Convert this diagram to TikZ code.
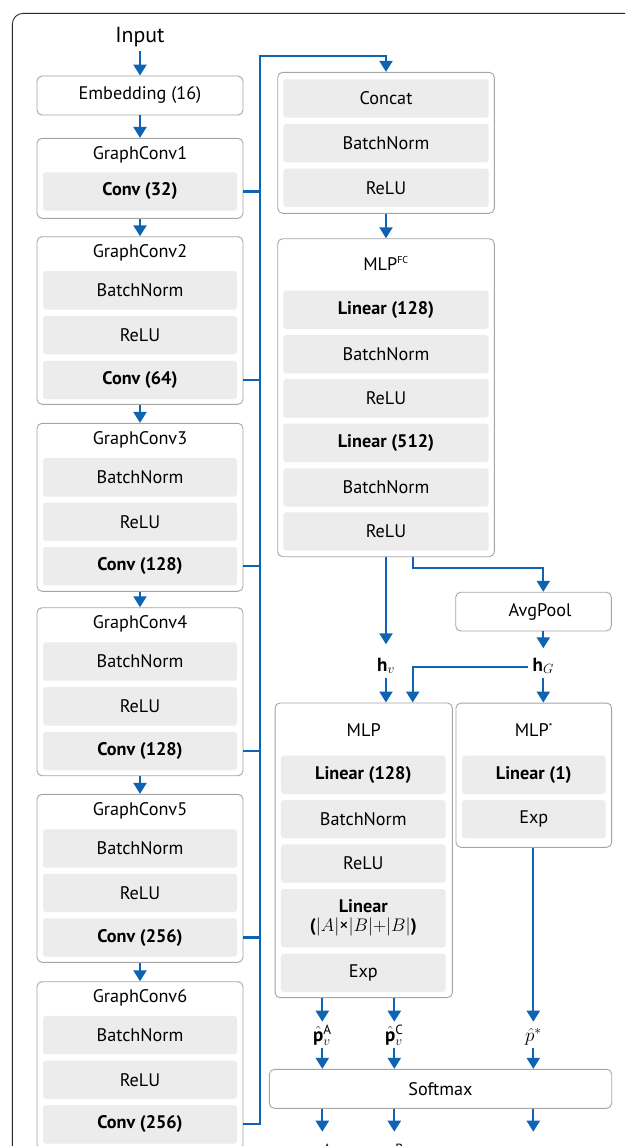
\documentclass[tikz,border=0pt]{standalone}
\usepackage{fix-cm}
\usepackage{amsmath}
\usepackage{fontspec}
\setmainfont{PT Sans}
\usetikzlibrary{arrows.meta,calc}
\definecolor{arrowblue}{RGB}{14,100,178}
\definecolor{cellgray}{RGB}{236,236,236}
\definecolor{boxgray}{RGB}{165,165,165}
\definecolor{framecol}{RGB}{40,40,40}
\tikzset{
  frame/.style={draw=framecol, line width=0.9pt, rounded corners=11pt},
  outerbox/.style={draw=boxgray, line width=0.9pt, rounded corners=5pt, fill=white, inner sep=0pt},
  cell/.style={fill=cellgray, rounded corners=3pt, inner sep=0pt, align=center, minimum height=38.4pt},
  ttl/.style={inner sep=0pt},
  lbl/.style={inner sep=0pt, font=\fontsize{19}{22}\selectfont},
  flow/.style={draw=arrowblue, line width=2.3pt, -{Triangle[width=13pt,length=11pt]}},
  bus/.style={draw=arrowblue, line width=2.3pt}
}
\begin{document}
\begin{tikzpicture}[x=1pt,y=-1pt,font=\fontsize{18.2}{21}\selectfont]
\useasboundingbox (0,0) rectangle (625,1146);
\clip (0,0) rectangle (625,1146);
\draw[frame] (12.3,13.3) rectangle (700,1220);

% ---------- left column ----------
\node[ttl, font=\fontsize{21.8}{25}\selectfont] (input) at (140,37) {Input};
\coordinate (inarr) at (140,51);
\node[outerbox, minimum width=206pt, minimum height=39pt] (emb) at (140,95.5) {Embedding (16)};

\node[outerbox, minimum width=206pt, minimum height=80pt] (gc1) at (140,178.3) {};
\node[ttl] (gc1t) at (140,155) {GraphConv1};
\node[cell, minimum width=194pt] (gc1c) at (140,191.5) {\textbf{Conv (32)}};

\node[outerbox, minimum width=206pt, minimum height=167.6pt] (gc2) at (140,320.5) {};
\node[ttl] (gc2t) at (140,253) {GraphConv2};
\node[cell, minimum width=194pt] (gc2a) at (140,290.3) {BatchNorm};
\node[cell, minimum width=194pt] (gc2b) at (140,335.2) {ReLU};
\node[cell, minimum width=194pt] (gc2c) at (140,380) {\textbf{Conv (64)}};

\node[outerbox, minimum width=206pt, minimum height=168pt] (gc3) at (140,507.3) {};
\node[ttl] (gc3t) at (140,440) {GraphConv3};
\node[cell, minimum width=194pt] (gc3a) at (140,477.3) {BatchNorm};
\node[cell, minimum width=194pt] (gc3b) at (140,521.7) {ReLU};
\node[cell, minimum width=194pt] (gc3c) at (140,566.2) {\textbf{Conv (128)}};

\node[outerbox, minimum width=206pt, minimum height=168pt] (gc4) at (140,691.7) {};
\node[ttl] (gc4t) at (140,624) {GraphConv4};
\node[cell, minimum width=194pt] (gc4a) at (140,661.5) {BatchNorm};
\node[cell, minimum width=194pt] (gc4b) at (140,706.3) {ReLU};
\node[cell, minimum width=194pt] (gc4c) at (140,751) {\textbf{Conv (128)}};

\node[outerbox, minimum width=206pt, minimum height=168pt] (gc5) at (140,878.3) {};
\node[ttl] (gc5t) at (140,811) {GraphConv5};
\node[cell, minimum width=194pt] (gc5a) at (140,848.5) {BatchNorm};
\node[cell, minimum width=194pt] (gc5b) at (140,893) {ReLU};
\node[cell, minimum width=194pt] (gc5c) at (140,937.5) {\textbf{Conv (256)}};

\node[outerbox, minimum width=206pt, minimum height=168pt] (gc6) at (140,1065.7) {};
\node[ttl] (gc6t) at (140,998) {GraphConv6};
\node[cell, minimum width=194pt] (gc6a) at (140,1035) {BatchNorm};
\node[cell, minimum width=194pt] (gc6b) at (140,1079.7) {ReLU};
\node[cell, minimum width=194pt] (gc6c) at (140,1124.3) {\textbf{Conv (256)}};

\draw[flow] (inarr) -- (emb.north);
\draw[flow] (emb.south) -- (gc1.north);
\draw[flow] (gc1.south) -- (gc2.north);
\draw[flow] (gc2.south) -- (gc3.north);
\draw[flow] (gc3.south) -- (gc4.north);
\draw[flow] (gc4.south) -- (gc5.north);
\draw[flow] (gc5.south) -- (gc6.north);

% ---------- concat / MLP^FC ----------
\node[outerbox, minimum width=216.6pt, minimum height=141pt] (cat) at (386,142.8) {};
\node[cell, minimum width=205.4pt] (cata) at (386,98.5) {Concat};
\node[cell, minimum width=205.4pt] (catb) at (386,143.2) {BatchNorm};
\node[cell, minimum width=205.4pt] (catc) at (386,187.7) {ReLU};

\coordinate (bustop) at (260,55.7);
\draw[flow] (gc6c -| gc6.east) -| (bustop) -| (cat.north);
\foreach \g in {gc1c,gc2c,gc3c,gc4c,gc5c}{
  \draw[bus] (\g -| gc1.east) -- (\g -| bustop);
}

\node[outerbox, minimum width=216.6pt, minimum height=318pt] (mlpfc) at (386,397.7) {};
\node[ttl] (mlpfct) at (386,263.3) {MLP\textsuperscript{\fontsize{10}{11}\selectfont FC}};
\node[cell, minimum width=205.4pt] (fca) at (386,309.7) {\textbf{Linear (128)}};
\node[cell, minimum width=205.4pt] (fcb) at (386,354.2) {BatchNorm};
\node[cell, minimum width=205.4pt] (fcc) at (386,398.3) {ReLU};
\node[cell, minimum width=205.4pt] (fcd) at (386,442.8) {\textbf{Linear (512)}};
\node[cell, minimum width=205.4pt] (fce) at (386,487.5) {BatchNorm};
\node[cell, minimum width=205.4pt] (fcf) at (386,531.5) {ReLU};
\draw[flow] (cat.south) -- (mlpfc.north);

% ---------- AvgPool, h labels ----------
\node[outerbox, minimum width=155.6pt, minimum height=38.7pt] (avg) at (533.5,611.6) {\hspace*{13pt}AvgPool};

\node[lbl, anchor=base] (hv) at (386,671) {$\mathbf{h}_{v}$};
\node[lbl, anchor=base] (hG) at (543.3,671) {$\mathbf{h}_{G}$};
\coordinate (hvtip) at (386,644.3);
\coordinate (hvout) at (386,677.7);
\coordinate (hGin) at (543.3,648.3);
\coordinate (hGout) at (543.3,677.7);
\coordinate (hGleft) at (528.3,666.7);
\coordinate (j1) at (412.7,568.3);
\coordinate (j2) at (412.7,666.7);

% ---------- MLP and MLP* ----------
\node[outerbox, minimum width=177.3pt, minimum height=294.7pt] (mlp) at (363.7,850.3) {};
\node[ttl] (mlpt) at (363.7,730) {MLP};
\node[cell, minimum width=164.7pt] (mlpa) at (363.3,774.8) {\textbf{Linear (128)}};
\node[cell, minimum width=164.7pt] (mlpb) at (363.3,819.2) {BatchNorm};
\node[cell, minimum width=164.7pt] (mlpc) at (363.3,863.5) {ReLU};
\node[cell, minimum width=164.7pt, minimum height=58.3pt] (mlpd) at (363.3,918.2)
  {\textbf{Linear}\\[-2pt]\textbf{(}$|A|$×$|B|{+}|B|$\textbf{)}};
\node[cell, minimum width=164.7pt] (mlpe) at (363.3,972.8) {Exp};

\node[outerbox, minimum width=155.7pt, minimum height=144.3pt] (mlps) at (533.8,775.2) {};
\node[ttl] (mlpst) at (533.8,730) {MLP\textsuperscript{\fontsize{10}{11}\selectfont *}};
\node[cell, minimum width=143.7pt] (mlpsa) at (533.8,774.8) {\textbf{Linear (1)}};
\node[cell, minimum width=143.7pt] (mlpsb) at (533.8,819.2) {Exp};

\draw[flow] (mlpfc.south) -- (hvtip);
\draw[flow] (mlpfc.south -| j1) -- (j1) -| (avg.north -| hGin);
\draw[flow] (avg.south -| hGin) -- (hGin);
\draw[flow] (hvout) -- (mlp.north -| hvout);
\draw[flow] (hGleft) -- (j2) -- (mlp.north -| j2);
\draw[flow] (hGout) -- (mlps.north -| hGout);

% ---------- Softmax and outputs ----------
\node[outerbox, minimum width=342.4pt, minimum height=39pt] (soft) at (440.5,1088.8) {Softmax};

\node[lbl, anchor=base] (phA) at (322.3,1041) {$\hat{\mathbf{p}}_{v}^{\mathrm{A}}$};
\node[lbl, anchor=base] (phC) at (394.3,1041) {$\hat{\mathbf{p}}_{v}^{\mathrm{C}}$};
\node[lbl, anchor=base] (phS) at (533.3,1041) {$\hat{p}^{*}$};
\coordinate (tA) at (322.3,1021.7);
\coordinate (tC) at (394.3,1021.7);
\coordinate (tS) at (533.3,1021.7);
\coordinate (oA) at (322.3,1048.3);
\coordinate (oC) at (394.3,1048.3);
\coordinate (oS) at (533.3,1048.3);
\draw[flow] (mlp.south -| tA) -- (tA);
\draw[flow] (mlp.south -| tC) -- (tC);
\draw[flow] (mlps.south -| tS) -- (tS);
\draw[flow] (oA) -- (soft.north -| oA);
\draw[flow] (oC) -- (soft.north -| oC);
\draw[flow] (oS) -- (soft.north -| oS);

\node[lbl, anchor=base] (pA) at (322.3,1160) {$\mathbf{p}^{\mathrm{A}}$};
\node[lbl, anchor=base] (pB) at (394.3,1160) {$\mathbf{p}^{\mathrm{B}}$};
\node[lbl, anchor=base] (pS) at (533.3,1160) {$p^{*}$};
\coordinate (uA) at (322.3,1131.7);
\coordinate (uB) at (394.3,1131.7);
\coordinate (uS) at (533.3,1131.7);
\draw[flow] (soft.south -| uA) -- (uA);
\draw[flow] (soft.south -| uB) -- (uB);
\draw[flow] (soft.south -| uS) -- (uS);
\end{tikzpicture}
\end{document}
